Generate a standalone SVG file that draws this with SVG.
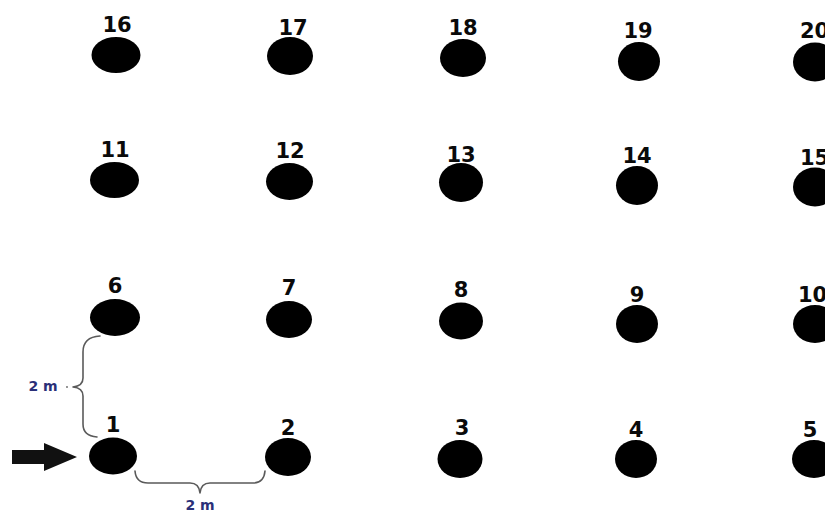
<svg xmlns="http://www.w3.org/2000/svg" width="825" height="512" viewBox="0 0 825 512">
<style>
.dot{fill:#000}
.lbl{font-family:"DejaVu Sans",Verdana,sans-serif;font-weight:bold;font-size:21px;fill:#0a0a0a;text-anchor:middle}
.lbl.s{text-anchor:start}
.dim{font-family:"DejaVu Sans",Verdana,sans-serif;font-weight:bold;font-size:14px;fill:#2a2f78;text-anchor:middle}
.brace{fill:none;stroke:#5a5a5a;stroke-width:1.6;stroke-linecap:round;stroke-linejoin:round}
</style>
<rect width="825" height="512" fill="#fff"/>
<g id="n16"><ellipse class="dot" cx="116" cy="55" rx="24.5" ry="18"/><text class="lbl" x="117" y="32">16</text></g>
<g id="n17"><ellipse class="dot" cx="290" cy="56" rx="23" ry="19"/><text class="lbl" x="293" y="35">17</text></g>
<g id="n18"><ellipse class="dot" cx="463" cy="58" rx="23" ry="19"/><text class="lbl" x="463" y="35">18</text></g>
<g id="n19"><ellipse class="dot" cx="639" cy="61.5" rx="21" ry="19.5"/><text class="lbl" x="638" y="38">19</text></g>
<g id="n20"><ellipse class="dot" cx="815" cy="62" rx="22" ry="19.5"/><text class="lbl s" x="800" y="38">20</text></g>

<g id="n11"><ellipse class="dot" cx="114.5" cy="180" rx="24.5" ry="18"/><text class="lbl" x="115" y="157">11</text></g>
<g id="n12"><ellipse class="dot" cx="289.5" cy="181.5" rx="23.5" ry="18.5"/><text class="lbl" x="290" y="158">12</text></g>
<g id="n13"><ellipse class="dot" cx="461" cy="182.5" rx="22" ry="19.5"/><text class="lbl" x="461" y="162">13</text></g>
<g id="n14"><ellipse class="dot" cx="637" cy="185.5" rx="21" ry="19.5"/><text class="lbl" x="637" y="163">14</text></g>
<g id="n15"><ellipse class="dot" cx="815" cy="187" rx="22" ry="19.5"/><text class="lbl s" x="800" y="165">15</text></g>

<g id="n6"><ellipse class="dot" cx="115" cy="317.5" rx="25" ry="18.5"/><text class="lbl" x="115" y="293">6</text></g>
<g id="n7"><ellipse class="dot" cx="289" cy="319.5" rx="23" ry="18.5"/><text class="lbl" x="289" y="295">7</text></g>
<g id="n8"><ellipse class="dot" cx="461" cy="321" rx="22" ry="18.5"/><text class="lbl" x="461" y="297">8</text></g>
<g id="n9"><ellipse class="dot" cx="637" cy="324" rx="21" ry="19"/><text class="lbl" x="637" y="302">9</text></g>
<g id="n10"><ellipse class="dot" cx="815" cy="324" rx="22" ry="19"/><text class="lbl s" x="798" y="302">10</text></g>

<g id="n1"><ellipse class="dot" cx="113" cy="456" rx="24" ry="18.5"/><text class="lbl" x="113" y="432">1</text></g>
<g id="n2"><ellipse class="dot" cx="288" cy="457" rx="23" ry="19"/><text class="lbl" x="288" y="435">2</text></g>
<g id="n3"><ellipse class="dot" cx="460" cy="459" rx="22.5" ry="19"/><text class="lbl" x="462" y="435">3</text></g>
<g id="n4"><ellipse class="dot" cx="636" cy="459" rx="21" ry="19"/><text class="lbl" x="636" y="437">4</text></g>
<g id="n5"><ellipse class="dot" cx="814" cy="459" rx="22" ry="19"/><text class="lbl" x="810" y="437">5</text></g>

<g id="connectors">
<polygon points="12,450 44,450 44,443 77,457 44,471 44,464 12,464" fill="#111"/>
<path class="brace" d="M100,336 Q83,337 83,352 L83,378 Q83,386 73,387 Q83,388 83,396 L83,424 Q83,436 97,437"/>
<path class="brace" d="M135,471 Q136,483 148,483 L190,483 Q199,483 200,493 Q201,483 210,483 L253,483 Q264,483 265,471"/>
<circle cx="67" cy="387" r="0.9" fill="#666"/>
<text class="dim" x="43" y="391">2 m</text>
<text class="dim" x="200" y="510">2 m</text>
</g>
</svg>
